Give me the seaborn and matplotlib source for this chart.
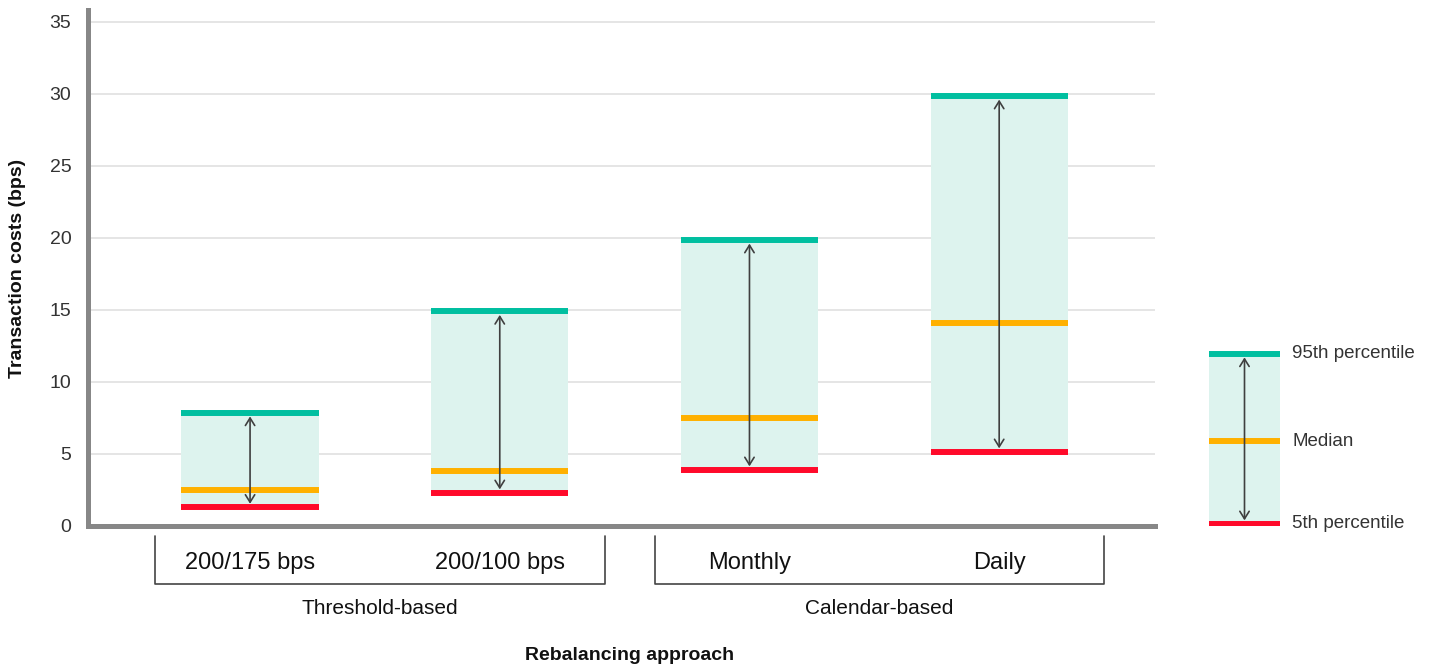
import matplotlib
matplotlib.use("Agg")
import matplotlib.pyplot as plt
import matplotlib.transforms as mtransforms
from matplotlib.lines import Line2D
import seaborn as sns
import pandas as pd

# Transaction-cost distribution per rebalancing approach (bps)
categories = ["200/175 bps", "200/100 bps", "Monthly", "Daily"]
groups = ["Threshold-based", "Threshold-based", "Calendar-based", "Calendar-based"]
p95 = [7.85, 14.9, 19.85, 29.85]
median = [2.5, 3.85, 7.5, 14.1]
p5 = [1.3, 2.3, 3.9, 5.15]
y_ticks = [0, 5, 10, 15, 20, 25, 30, 35]
legend_labels = ["95th percentile", "Median", "5th percentile"]

TEAL = "#00BFA0"
ORANGE = "#FFB000"
RED = "#FF0A2A"
FILL = "#DDF3EE"
SPINE = "#878787"
GRID = "#E0E0E0"
ARROW = "#3F3F3F"

sns.set_theme(style="white")
plt.rcParams["font.family"] = ["Liberation Sans", "DejaVu Sans"]

df = pd.DataFrame({"approach": categories, "group": groups,
                   "p95": p95, "median": median, "p5": p5})
df["spread"] = df["p95"] - df["p5"]

W, H = 1429, 668
fig = plt.figure(figsize=(W / 100, H / 100), dpi=100)
ax = fig.add_axes([88 / W, 1 - 526 / H, (1155 - 88) / W, (526 - 10) / H])

bar_w = 0.55
# shaded 5th-95th band
sns.barplot(data=df, x="approach", y="spread", bottom=df["p5"].to_numpy(),
            color=FILL, saturation=1, width=bar_w, linewidth=0, ax=ax, zorder=2)

x = range(len(categories))
half = bar_w / 2
ax.hlines(df["p95"], [i - half for i in x], [i + half for i in x], color=TEAL, lw=4.3, zorder=3)
ax.hlines(df["median"], [i - half for i in x], [i + half for i in x], color=ORANGE, lw=4.3, zorder=3)
ax.hlines(df["p5"], [i - half for i in x], [i + half for i in x], color=RED, lw=4.3, zorder=3)

for i, (lo, hi) in enumerate(zip(p5, p95)):
    ax.annotate("", xy=(i, hi), xytext=(i, lo),
                arrowprops=dict(arrowstyle="<->,head_length=0.45,head_width=0.28",
                                color=ARROW, lw=1.2, shrinkA=2.5, shrinkB=2.5),
                zorder=4)

ax.set_xlim(-0.649, 3.624)
ax.set_ylim(0, 35.83)
ax.set_yticks(y_ticks)
ax.set_yticklabels([str(t) for t in y_ticks], fontsize=14, color="#333333")
ax.yaxis.grid(True, color=GRID, lw=1.2, zorder=0)
ax.set_axisbelow(True)
ax.tick_params(axis="y", length=0, pad=12)
ax.tick_params(axis="x", length=0, pad=19)
ax.set_xticks(list(x))
ax.set_xticklabels(categories, fontsize=17, color="#111111")
ax.set_xlabel("")
ax.set_ylabel("")

for s in ["top", "right"]:
    ax.spines[s].set_visible(False)
for s in ["left", "bottom"]:
    ax.spines[s].set_color(SPINE)
    ax.spines[s].set_linewidth(3.6)

# group brackets under the category labels
trans = mtransforms.blended_transform_factory(ax.transData, ax.transAxes)
y_top, y_bot = -0.019, -0.112
seen = []
for g in groups:
    if g not in seen:
        seen.append(g)
for g in seen:
    idx = [i for i, gg in enumerate(groups) if gg == g]
    left, right = idx[0] - 0.38, idx[-1] + 0.42
    ax.add_line(Line2D([left, left, right, right], [y_top, y_bot, y_bot, y_top],
                       transform=trans, color="#444444", lw=1.2, clip_on=False))
    ax.text((left + right) / 2, -0.159, g, transform=trans, ha="center", va="center",
            fontsize=15, color="#111111")

fig.text(630 / W, 1 - 656 / H, "Rebalancing approach", ha="center", va="center",
         fontsize=14, fontweight="bold", color="#111111")
fig.text(18 / W, 1 - 268 / H, "Transaction costs (bps)", ha="center", va="center",
         rotation=90, fontsize=14, fontweight="bold", color="#111111")

# legend key drawn on its own axes sharing the value scale
lax = fig.add_axes([1209 / W, 1 - 526 / H, 71 / W, (526 - 10) / H])
lax.set_xlim(0, 1)
lax.set_ylim(0, 35.83)
lax.axis("off")
key_lo, key_mid, key_hi = 0.15, 5.9, 11.95
lax.axhspan(key_lo, key_hi, xmin=0, xmax=1, color=FILL, lw=0, zorder=1)
for lvl, col, lab in zip([key_hi, key_mid, key_lo], [TEAL, ORANGE, RED], legend_labels):
    lax.hlines(lvl, 0, 1, color=col, lw=4.3, zorder=3)
    lax.text(1.17, lvl, lab, ha="left", va="center",
             fontsize=13.5, color="#333333", clip_on=False)
lax.annotate("", xy=(0.5, key_hi), xytext=(0.5, key_lo),
             arrowprops=dict(arrowstyle="<->,head_length=0.45,head_width=0.28",
                             color=ARROW, lw=1.2, shrinkA=2.5, shrinkB=2.5), zorder=4)

fig.savefig("out.png", dpi=100, facecolor="white")
